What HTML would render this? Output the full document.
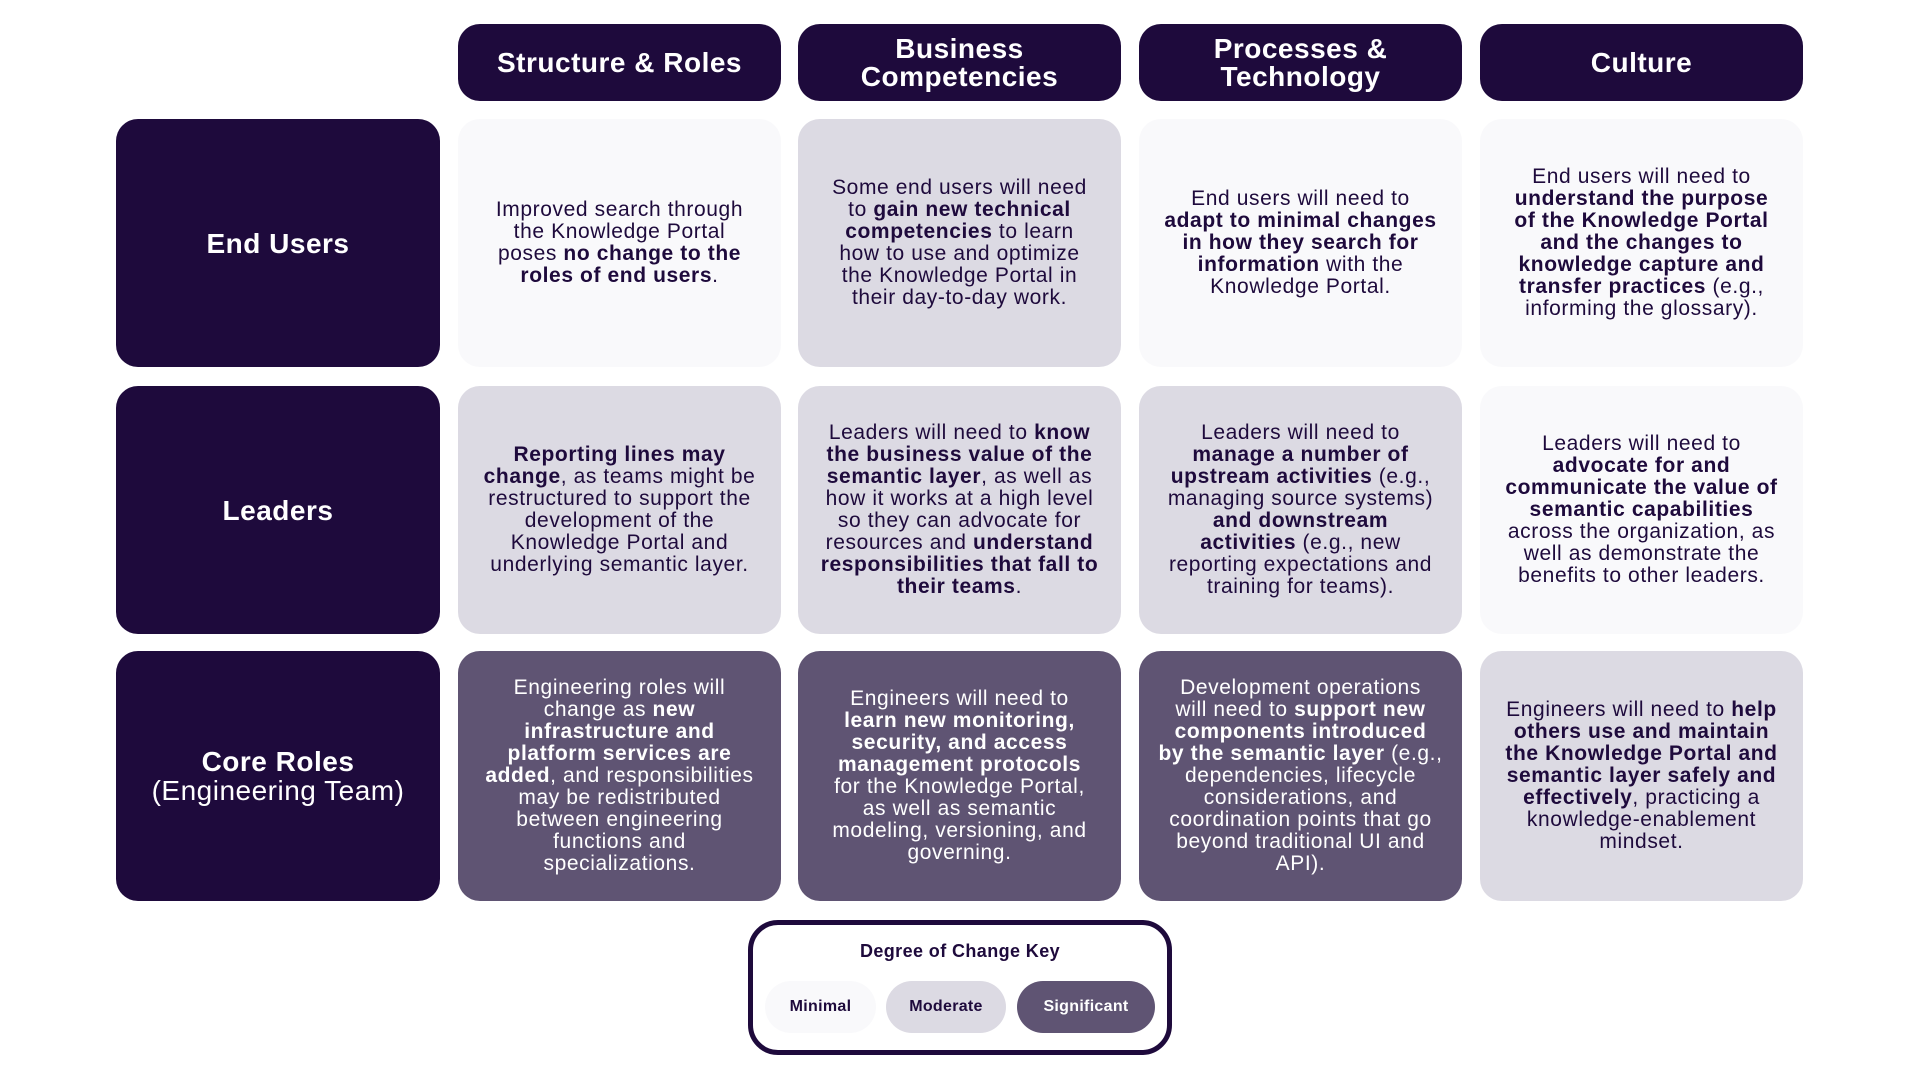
<!DOCTYPE html>
<html><head><meta charset="utf-8"><style>
body{margin:0;width:1920px;height:1080px;background:#fff;position:relative;font-family:"Liberation Sans",sans-serif;color:#1e0a3c;overflow:hidden}
.b{position:absolute;display:flex;align-items:center;justify-content:center;text-align:center;border-radius:22px;box-sizing:border-box}
.h{background:#1e0a3c;color:#fff;font-weight:bold;font-size:28px;letter-spacing:0.5px;line-height:28px;top:24px;height:77px;width:323px}
.r{background:#1e0a3c;color:#fff;font-weight:bold;font-size:28px;letter-spacing:0.5px;line-height:29px;left:116px;width:324px}
.c{width:323px;font-size:21px;line-height:22px;padding:0 6px;letter-spacing:0.6px}
.mi{background:#f9f9fb}.mo{background:#dcdae3}.si{background:#5f5473;color:#fff}
.r1{top:119px;height:248px}.r2{top:386px;height:248px}.r3{top:651px;height:250px}
.x1{left:458px}.x2{left:798px}.x3{left:1139px}.x4{left:1480px}
.key{position:absolute;left:748px;top:920px;width:424px;height:135px;border:5px solid #1e0a3c;border-radius:30px;box-sizing:border-box}
.kt{position:absolute;top:16px;width:100%;text-align:center;font-weight:bold;font-size:18px;letter-spacing:0.4px}
.p{position:absolute;top:56px;height:52px;border-radius:26px;display:flex;align-items:center;justify-content:center;font-weight:bold;font-size:16px;letter-spacing:0.3px}
</style></head><body>
<div class="b h x1">Structure &amp; Roles</div>
<div class="b h x2">Business<br>Competencies</div>
<div class="b h x3">Processes &amp;<br>Technology</div>
<div class="b h x4">Culture</div>

<div class="b r r1">End Users</div>
<div class="b r r2">Leaders</div>
<div class="b r r3"><div>Core Roles<br><span style="font-weight:normal">(Engineering Team)</span></div></div>

<div class="b c mi r1 x1"><div>Improved search through<br>the Knowledge Portal<br>poses <b>no change to the<br>roles of end users</b>.</div></div>
<div class="b c mo r1 x2"><div>Some end users will need<br>to <b>gain new technical<br>competencies</b> to learn<br>how to use and optimize<br>the Knowledge Portal in<br>their day-to-day work.</div></div>
<div class="b c mi r1 x3"><div>End users will need to<br><b>adapt to minimal changes<br>in how they search for<br>information</b> with the<br>Knowledge Portal.</div></div>
<div class="b c mi r1 x4"><div>End users will need to<br><b>understand the purpose<br>of the Knowledge Portal<br>and the changes to<br>knowledge capture and<br>transfer practices</b> (e.g.,<br>informing the glossary).</div></div>

<div class="b c mo r2 x1"><div><b>Reporting lines may<br>change</b>, as teams might be<br>restructured to support the<br>development of the<br>Knowledge Portal and<br>underlying semantic layer.</div></div>
<div class="b c mo r2 x2"><div>Leaders will need to <b>know<br>the business value of the<br>semantic layer</b>, as well as<br>how it works at a high level<br>so they can advocate for<br>resources and <b>understand<br>responsibilities that fall to<br>their teams</b>.</div></div>
<div class="b c mo r2 x3"><div>Leaders will need to<br><b>manage a number of<br>upstream activities</b> (e.g.,<br>managing source systems)<br><b>and downstream<br>activities</b> (e.g., new<br>reporting expectations and<br>training for teams).</div></div>
<div class="b c mi r2 x4"><div>Leaders will need to<br><b>advocate for and<br>communicate the value of<br>semantic capabilities</b><br>across the organization, as<br>well as demonstrate the<br>benefits to other leaders.</div></div>

<div class="b c si r3 x1"><div>Engineering roles will<br>change as <b>new<br>infrastructure and<br>platform services are<br>added</b>, and responsibilities<br>may be redistributed<br>between engineering<br>functions and<br>specializations.</div></div>
<div class="b c si r3 x2"><div>Engineers will need to<br><b>learn new monitoring,<br>security, and access<br>management protocols</b><br>for the Knowledge Portal,<br>as well as semantic<br>modeling, versioning, and<br>governing.</div></div>
<div class="b c si r3 x3"><div>Development operations<br>will need to <b>support new<br>components introduced<br>by the semantic layer</b> (e.g.,<br>dependencies, lifecycle<br>considerations, and<br>coordination points that go<br>beyond traditional UI and<br>API).</div></div>
<div class="b c mo r3 x4"><div>Engineers will need to <b>help<br>others use and maintain<br>the Knowledge Portal and<br>semantic layer safely and<br>effectively</b>, practicing a<br>knowledge-enablement<br>mindset.</div></div>

<div class="key">
<div class="kt">Degree of Change Key</div>
<div class="p mi" style="left:12px;width:111px">Minimal</div>
<div class="p mo" style="left:133px;width:120px">Moderate</div>
<div class="p si" style="left:264px;width:138px">Significant</div>
</div>
</body></html>
